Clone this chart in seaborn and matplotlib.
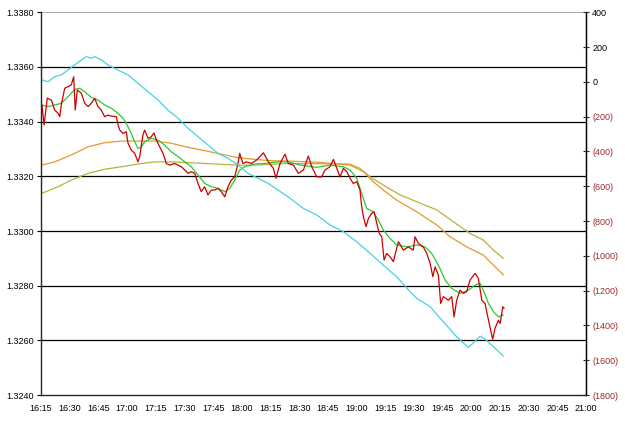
import matplotlib

matplotlib.use("Agg")
import matplotlib.pyplot as plt
import numpy as np
import pandas as pd
import seaborn as sns

# x values are minutes after 16:15
red_min = [0.5, 1.6, 3.3, 5.4, 7.2, 8.9, 9.8, 10.6, 12.4, 14.1, 15.8, 17.1, 17.9, 19.0,
           21.1, 22.9, 24.6, 26.3, 28.1, 29.8, 31.5, 33.3, 35.0, 36.8, 39.4, 40.3, 41.2,
           42.9, 44.6, 45.5, 47.2, 49.0, 50.7, 51.6, 53.3, 54.2, 56.0, 57.7, 59.1, 60.3,
           62.1, 63.8, 64.7, 65.5, 67.3, 69.9, 71.7, 73.4, 75.2, 76.9, 78.6, 80.4, 82.1,
           83.8, 85.6, 87.3, 89.1, 90.8, 92.6, 94.3, 96.1, 97.8, 99.5, 101.3, 103.0, 103.9,
           105.6, 107.4, 110.0, 112.8, 116.3, 118.9, 121.5, 122.9, 125.0, 127.6, 129.3,
           132.0, 134.6, 137.2, 139.8, 141.6, 144.2, 146.8, 148.5, 151.1, 152.9, 154.7,
           156.4, 158.1, 159.9, 161.6, 163.3, 165.1, 166.8, 167.7, 168.6, 170.0, 171.2,
           173.0, 174.2, 175.6, 176.9, 178.2, 179.4, 180.8, 182.5, 184.3, 185.1, 186.9,
           189.5, 192.1, 194.7, 195.6, 197.3, 199.9, 201.7, 203.5, 204.9, 206.1, 207.8,
           209.0, 210.4, 213.0, 214.8, 216.0, 217.4, 219.1, 220.9, 222.6, 224.4, 227.0,
           228.7, 230.5, 232.2, 234.0, 236.2, 237.4, 239.2, 240.1, 241.5, 242.2]
red_price = [1.33461, 1.33388, 1.33486, 1.33479, 1.33442, 1.33431, 1.33418, 1.33461,
             1.33522, 1.33528, 1.33534, 1.33564, 1.33442, 1.33516, 1.33504, 1.33467,
             1.33455, 1.33467, 1.33485, 1.33455, 1.33442, 1.33418, 1.33424, 1.33420,
             1.33418, 1.33388, 1.33369, 1.33357, 1.33363, 1.33321, 1.33296, 1.33284,
             1.33253, 1.33272, 1.33351, 1.33369, 1.33339, 1.33345, 1.33359, 1.33333,
             1.33308, 1.33284, 1.33266, 1.33247, 1.33241, 1.33247, 1.33241, 1.33235,
             1.33223, 1.33211, 1.33217, 1.33211, 1.33174, 1.33144, 1.33162, 1.33132,
             1.33150, 1.33150, 1.33156, 1.33144, 1.33125, 1.33162, 1.33186, 1.33198,
             1.33247, 1.33284, 1.33247, 1.33253, 1.33247, 1.33260, 1.33286, 1.33253,
             1.33229, 1.33193, 1.33247, 1.33281, 1.33247, 1.33241, 1.33211, 1.33223,
             1.33274, 1.33235, 1.33198, 1.33198, 1.33223, 1.33235, 1.33262, 1.33229,
             1.33198, 1.33229, 1.33217, 1.33193, 1.33174, 1.33180, 1.33150, 1.33089,
             1.33052, 1.33016, 1.33046, 1.33065, 1.33070, 1.33028, 1.32991, 1.32979,
             1.32894, 1.32918, 1.32906, 1.32888, 1.32912, 1.32961, 1.32930, 1.32942,
             1.32930, 1.32979, 1.32955, 1.32942, 1.32918, 1.32882, 1.32833, 1.32869,
             1.32839, 1.32735, 1.32760, 1.32747, 1.32760, 1.32686, 1.32747, 1.32784,
             1.32772, 1.32778, 1.32821, 1.32845, 1.32827, 1.32747, 1.32735, 1.32674,
             1.32604, 1.32644, 1.32674, 1.32662, 1.32723, 1.32717]

green_min = [0.5, 3.7, 7.2, 10.6, 14.1, 17.6, 20.2, 22.9, 26.3, 29.8, 33.3, 36.8, 40.3,
             42.9, 44.6, 47.2, 49.0, 50.7, 52.5, 54.2, 57.7, 61.2, 64.7, 68.1, 71.7, 75.2,
             78.6, 82.1, 85.6, 89.1, 92.6, 96.1, 98.7, 101.3, 103.9, 106.5, 111.8, 117.0,
             124.0, 129.2, 135.5, 144.2, 151.2, 158.1, 161.6, 165.1, 167.7, 170.3, 173.8,
             176.4, 179.0, 182.5, 186.0, 191.3, 196.5, 200.8, 204.3, 207.8, 211.3, 214.8,
             219.1, 223.5, 227.0, 229.6, 231.3, 234.0, 236.6, 239.2, 241.8]
green_price = [1.33461, 1.33455, 1.33461, 1.33467, 1.33491, 1.33518, 1.33522, 1.33509,
               1.33489, 1.33479, 1.33461, 1.33449, 1.33430, 1.33412, 1.33394, 1.33357,
               1.33326, 1.33302, 1.33308, 1.33326, 1.33339, 1.33333, 1.33314, 1.33290,
               1.33272, 1.33253, 1.33235, 1.33205, 1.33174, 1.33162, 1.33156, 1.33144,
               1.33156, 1.33186, 1.33223, 1.33235, 1.33245, 1.33247, 1.33253, 1.33253,
               1.33241, 1.33233, 1.33241, 1.33235, 1.33223, 1.33193, 1.33138, 1.33083,
               1.33070, 1.33040, 1.33004, 1.32973, 1.32949, 1.32942, 1.32949, 1.32942,
               1.32918, 1.32875, 1.32821, 1.32790, 1.32772, 1.32784, 1.32802, 1.32809,
               1.32784, 1.32735, 1.32705, 1.32686, 1.32693]

ma_min = [0.5, 7.2, 15.8, 24.6, 33.3, 42.0, 50.7, 59.5, 68.1, 76.9, 85.6, 94.3, 103.0,
          111.8, 120.4, 129.2, 145.9, 161.6, 168.6, 173.8, 179.0, 186.0, 196.5, 207.0,
          213.9, 222.6, 231.3, 236.6, 241.8]
orange_price = [1.33241, 1.33253, 1.33278, 1.33308, 1.33323, 1.33329, 1.33329, 1.33329,
                1.33321, 1.33306, 1.33294, 1.33281, 1.33268, 1.33262, 1.33257, 1.33256,
                1.33251, 1.33241, 1.33217, 1.33180, 1.33150, 1.33113, 1.33070, 1.33022,
                1.32979, 1.32942, 1.32912, 1.32875, 1.32839]

olive_min = [0.5, 8.9, 15.8, 24.6, 33.3, 42.0, 50.7, 59.5, 68.1, 76.9, 85.6, 94.3, 103.0,
             111.8, 120.4, 129.2, 145.9, 161.6, 166.8, 172.1, 179.0, 187.8, 196.5, 207.0,
             215.6, 224.4, 231.3, 236.6, 241.8]
olive_price = [1.33138, 1.33162, 1.33186, 1.33211, 1.33226, 1.33235, 1.33245, 1.33253,
               1.33253, 1.33250, 1.33247, 1.33244, 1.33241, 1.33241, 1.33244, 1.33247,
               1.33246, 1.33245, 1.33229, 1.33198, 1.33168, 1.33132, 1.33107, 1.33077,
               1.33034, 1.32991, 1.32967, 1.32930, 1.32900]

cyan_min = [0.5, 3.7, 7.2, 10.6, 14.1, 17.6, 21.1, 23.7, 26.3, 28.1, 31.5, 35.0, 40.3,
            45.5, 50.7, 56.0, 61.2, 66.4, 71.7, 76.9, 82.1, 87.3, 92.6, 97.8, 103.0,
            108.3, 113.5, 118.7, 124.0, 129.2, 137.2, 144.2, 151.2, 158.1, 165.1, 172.1,
            179.0, 186.0, 193.0, 196.5, 203.5, 210.4, 217.4, 223.5, 226.1, 229.6, 232.2,
            236.6, 241.8]
cyan_value = [11, 1, 30, 40, 68, 97, 126, 145, 136, 145, 126, 97, 68, 40, -8, -57, -104,
              -162, -209, -267, -315, -363, -411, -439, -478, -526, -554, -583, -622,
              -660, -727, -765, -823, -861, -919, -986, -1053, -1120, -1206, -1244,
              -1292, -1379, -1465, -1526, -1500, -1461, -1478, -1522, -1576]

tick_min = list(range(0, 300, 15))
tick_labels = ["16:15", "16:30", "16:45", "17:00", "17:15", "17:30", "17:45", "18:00",
               "18:15", "18:30", "18:45", "19:00", "19:15", "19:30", "19:45", "20:00",
               "20:15", "20:30", "20:45", "21:00"]

sns.set_style("white")
plt.rcParams["font.family"] = ["Liberation Sans", "DejaVu Sans"]
plt.rcParams["font.size"] = 6.5

fig = plt.figure(figsize=(6.25, 4.23), dpi=100)
ax = fig.add_axes([0.0656, 0.066, 0.872, 0.905])

left = [
    (olive_min, olive_price, "#B4B43C"),
    (ma_min, orange_price, "#E39A2E"),
    (green_min, green_price, "#2EC82E"),
    (red_min, red_price, "#CC0000"),
]
for xs, ys, col in left:
    df = pd.DataFrame({"t": xs, "p": ys})
    sns.lineplot(data=df, x="t", y="p", ax=ax, color=col, linewidth=0.9,
                 sort=False, estimator=None)

ax.set_xlim(0, 285)
ax.set_ylim(1.3240, 1.3380)
ax.set_yticks(np.arange(1.3240, 1.33801, 0.002))
ax.set_yticklabels([f"{v:.4f}" for v in np.arange(1.3240, 1.33801, 0.002)])
ax.set_xticks(tick_min)
ax.set_xticklabels(tick_labels)
ax.set_xlabel("")
ax.set_ylabel("")
for v in np.arange(1.3260, 1.3375, 0.002):
    ax.axhline(v, color="black", linewidth=0.9, zorder=0)
ax.axhline(1.3380, color="#999999", linewidth=1.2, zorder=0)
for s in ["top"]:
    ax.spines[s].set_visible(False)
for s in ["left", "bottom", "right"]:
    ax.spines[s].set_color("black")
    ax.spines[s].set_linewidth(0.9)
ax.tick_params(axis="x", direction="inout", length=5, width=0.8, pad=4, colors="black")
ax.tick_params(axis="y", direction="out", length=3, width=0.8, pad=2, colors="black")

ax2 = ax.twinx()
cdf = pd.DataFrame({"t": cyan_min, "v": cyan_value})
sns.lineplot(data=cdf, x="t", y="v", ax=ax2, color="#45D2DE", linewidth=0.9,
             sort=False, estimator=None)
ax2.set_ylim(-1800, 400)
rticks = list(range(-1800, 401, 200))
ax2.set_yticks(rticks)
ax2.set_yticklabels([f"({-v})" if v < 0 else str(v) for v in rticks])
for lab, v in zip(ax2.get_yticklabels(), rticks):
    lab.set_color("#9A2B2B" if v < 0 else "black")
ax2.set_ylabel("")
ax2.spines["top"].set_visible(False)
ax2.spines["right"].set_color("black")
ax2.spines["right"].set_linewidth(0.9)
ax2.tick_params(axis="y", direction="inout", length=5, width=0.8, pad=2)
ax2.set_xlim(0, 285)

fig.savefig("out.png", dpi=100)
